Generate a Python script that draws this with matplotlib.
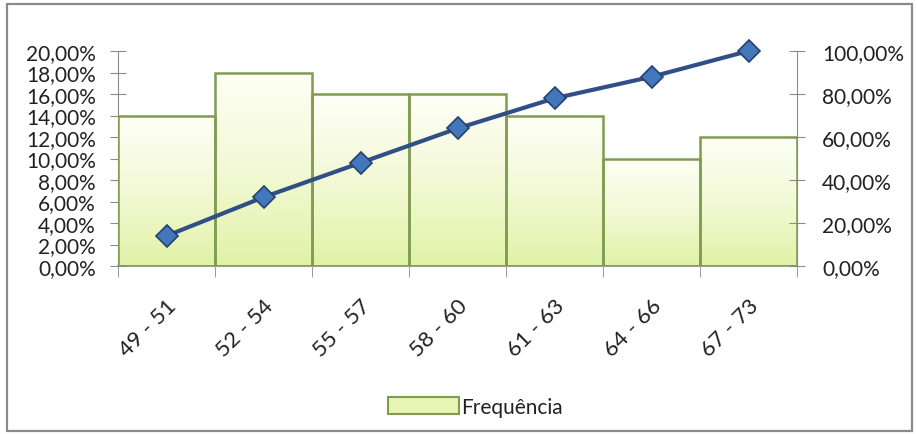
import numpy as np
import matplotlib
matplotlib.use("Agg")
import matplotlib.pyplot as plt
import matplotlib.transforms as mtransforms
from matplotlib.patches import Rectangle, Patch
from matplotlib.ticker import FuncFormatter, MultipleLocator, FixedLocator
from matplotlib.colors import LinearSegmentedColormap

# Classes de peso e frequências relativas
classes = ["49 - 51", "52 - 54", "55 - 57", "58 - 60", "61 - 63", "64 - 66", "67 - 73"]
frequencia = [14, 18, 16, 16, 14, 10, 12]          # %
acumulada = [14, 32, 48, 64, 78, 88, 100]           # %
legend_label = "Frequência"

plt.rcParams["font.family"] = ["Lato", "DejaVu Sans"]

W, H = 917, 435
fig = plt.figure(figsize=(W / 100, H / 100), dpi=100)
fig.patch.set_facecolor("white")

# moldura externa do gráfico
fig.patches.append(Rectangle((7 / W, 3 / H), (912 - 7) / W, (430 - 3) / H,
                             transform=fig.transFigure, fill=False,
                             edgecolor="#8a8a8a", lw=1.6))

left, right = 118 / W, 797 / W
bottom, top = (H - 267) / H, (H - 52) / H
ax = fig.add_axes([left, bottom, right - left, top - bottom])
ax.set_facecolor("none")

x = np.arange(len(classes))
freq = np.array(frequencia) / 100.0
cum = np.array(acumulada) / 100.0

cmap = LinearSegmentedColormap.from_list("verde", ["#e1f2a6", "#f3f9d6", "#fefff6"])
grad = np.linspace(0, 1, 256).reshape(-1, 1)

bars = ax.bar(x, freq, width=1.0, facecolor="none", edgecolor="#7f9c52",
              linewidth=1.8, zorder=3)
for b in bars:
    x0, w, h = b.get_x(), b.get_width(), b.get_height()
    im = ax.imshow(grad, cmap=cmap, origin="lower", aspect="auto",
                   extent=(x0, x0 + w, 0, h), zorder=2, interpolation="bicubic")
    im.set_clip_path(b)

ax.set_xlim(-0.5, len(classes) - 0.5)
ax.set_ylim(0, 0.20)
ax.yaxis.set_major_locator(MultipleLocator(0.02))
ax.yaxis.set_major_formatter(FuncFormatter(lambda v, p: f"{v*100:.2f}%".replace(".", ",")))

for s in ["top", "right"]:
    ax.spines[s].set_visible(False)
ax.spines["left"].set_color("#8a8a8a")
ax.spines["bottom"].set_color("#8a8a8a")
ax.spines["bottom"].set_linewidth(1.2)

ax.set_xticks(x)
ax.set_xticklabels(classes, rotation=45, ha="right", va="center",
                   rotation_mode="anchor", fontsize=16, color="#222222")
ax.tick_params(axis="x", which="major", length=0, pad=26)
shift = mtransforms.ScaledTranslation(7 / 100, 0, fig.dpi_scale_trans)
for lbl in ax.get_xticklabels():
    lbl.set_transform(lbl.get_transform() + shift)
ax.xaxis.set_minor_locator(FixedLocator(np.arange(-0.5, len(classes), 1.0)))
ax.tick_params(axis="x", which="minor", length=8, color="#8a8a8a", direction="out")
ax.tick_params(axis="y", length=12, direction="inout", color="#8a8a8a",
               labelsize=15, labelcolor="#222222", pad=10)

ax2 = ax.twinx()
ax2.set_ylim(0, 1.0)
ax2.yaxis.set_major_locator(MultipleLocator(0.2))
ax2.yaxis.set_major_formatter(FuncFormatter(lambda v, p: f"{v*100:.2f}%".replace(".", ",")))
for s in ["top", "left", "bottom"]:
    ax2.spines[s].set_visible(False)
ax2.spines["right"].set_color("#8a8a8a")
ax2.tick_params(axis="y", length=12, direction="inout", color="#8a8a8a",
                labelsize=15, labelcolor="#222222", pad=12)
ax2.plot(x, cum, color="#2f4f86", lw=3, marker="D", markersize=11,
         markerfacecolor="#4377bb", markeredgecolor="#25406f",
         markeredgewidth=1.2, zorder=5, clip_on=False)

handle = Patch(facecolor="#e6f4b4", edgecolor="#7f9c52", linewidth=1.5)
fig.legend([handle], [legend_label], loc="center", bbox_to_anchor=(475 / W, 1 - 408 / H),
           frameon=False, fontsize=15, handlelength=3.4, handleheight=0.9,
           handletextpad=0.1, labelcolor="#222222")

fig.savefig("out.png", dpi=100)
